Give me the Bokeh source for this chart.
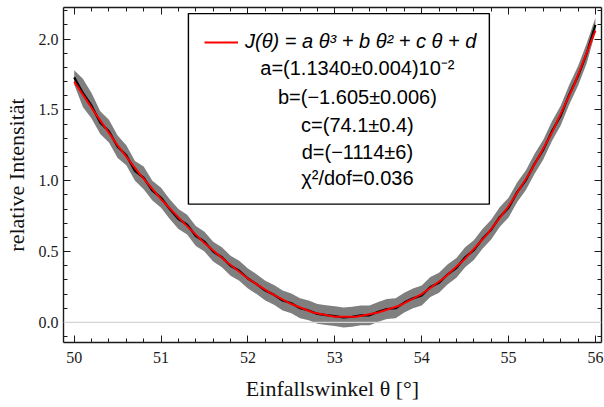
import numpy as np
from bokeh.plotting import figure
from bokeh.models import (Range1d, LinearAxis, SingleIntervalTicker, Span, BoxAnnotation,
                          Label, Legend, LegendItem, ColumnDataSource, CustomJSTickFormatter,
                          PrintfTickFormatter)
from bokeh.core.properties import value
from bokeh.embed import file_html
from bokeh.resources import INLINE

# ---- data ----
theta_data = [50.0, 50.1, 50.2, 50.3, 50.4, 50.5, 50.6, 50.7, 50.8, 50.9,
              51.0, 51.1, 51.2, 51.3, 51.4, 51.5, 51.6, 51.7, 51.8, 51.9,
              52.0, 52.1, 52.2, 52.3, 52.4, 52.5, 52.6, 52.7, 52.8, 52.9,
              53.0, 53.1, 53.2, 53.3, 53.4, 53.5, 53.6, 53.7, 53.8, 53.9,
              54.0, 54.1, 54.2, 54.3, 54.4, 54.5, 54.6, 54.7, 54.8, 54.9,
              55.0, 55.1, 55.2, 55.3, 55.4, 55.5, 55.6, 55.7, 55.8, 55.9,
              56.0]
j_data = [1.73, 1.62, 1.53, 1.41, 1.35, 1.24, 1.18, 1.07, 1.02, 0.93,
          0.88, 0.80, 0.73, 0.69, 0.61, 0.57, 0.50, 0.46, 0.40, 0.365,
          0.31, 0.27, 0.225, 0.195, 0.155, 0.135, 0.10, 0.085, 0.06, 0.052,
          0.045, 0.035, 0.04, 0.05, 0.05, 0.075, 0.095, 0.10, 0.14, 0.17,
          0.19, 0.25, 0.28, 0.34, 0.385, 0.46, 0.51, 0.59, 0.655, 0.745,
          0.81, 0.92, 1.005, 1.12, 1.22, 1.35, 1.46, 1.61, 1.74, 1.90,
          2.10]
j_err = [0.05, 0.10, 0.09, 0.08, 0.08, 0.08, 0.07, 0.07, 0.08, 0.07,
         0.07, 0.07, 0.07, 0.07, 0.07, 0.07, 0.07, 0.07, 0.07, 0.07,
         0.07, 0.07, 0.07, 0.07, 0.07, 0.07, 0.07, 0.07, 0.07, 0.07,
         0.07, 0.07, 0.07, 0.07, 0.07, 0.07, 0.07, 0.07, 0.07, 0.07,
         0.07, 0.07, 0.07, 0.07, 0.07, 0.07, 0.07, 0.07, 0.07, 0.07,
         0.07, 0.07, 0.07, 0.07, 0.07, 0.07, 0.07, 0.07, 0.07, 0.07,
         0.05]

theta_fit = [50.0, 50.25, 50.5, 50.75, 51.0, 51.25, 51.5, 51.75, 52.0, 52.25,
             52.5, 52.75, 53.0, 53.25, 53.5, 53.75, 54.0, 54.25, 54.5, 54.75,
             55.0, 55.25, 55.5, 55.75, 56.0]
j_fit = [1.70, 1.47, 1.25, 1.05, 0.87, 0.71, 0.56, 0.43, 0.31, 0.21,
         0.13, 0.07, 0.04, 0.04, 0.07, 0.12, 0.20, 0.31, 0.45, 0.62,
         0.82, 1.06, 1.34, 1.67, 2.06]

x_ticks_interval = 1
y_ticks_interval = 0.5

legend_label = "J(\u03b8) = a \u03b8\u00b3 + b \u03b8\u00b2 + c \u03b8 + d"
param_lines = ["a=(1.1340\u00b10.004)10\u207b\u00b2",
               "b=(\u22121.605\u00b10.006)",
               "c=(74.1\u00b10.4)",
               "d=(\u22121114\u00b16)",
               "\u03c7\u00b2/dof=0.036"]

x_title = "Einfallswinkel \u03b8 [\u00b0]"
y_title = "relative Intensit\u00e4t"

# ---- figure ----
p = figure(width=604, height=407, output_backend="svg", toolbar_location=None,
           x_range=Range1d(49.877, 56.07), y_range=Range1d(-0.1416, 2.223),
           min_border_left=63, min_border_right=3, min_border_top=7, min_border_bottom=65,
           x_axis_label=x_title, y_axis_label=y_title)
p.xgrid.visible = False
p.ygrid.visible = False
p.outline_line_color = None
p.background_fill_color = "white"

serif = "Liberation Serif"

def style_axis(ax, interval, labels=True):
    ax.ticker = SingleIntervalTicker(interval=interval, num_minor_ticks=5)
    ax.axis_line_color = "#1a1a1a"
    ax.axis_line_width = 1.4
    ax.major_tick_in = 7
    ax.major_tick_out = 0
    ax.minor_tick_in = 4
    ax.minor_tick_out = 0
    ax.major_tick_line_color = "#1a1a1a"
    ax.minor_tick_line_color = "#1a1a1a"
    ax.major_label_text_font = serif
    ax.major_label_text_font_size = "16px"
    ax.major_label_text_color = "#1a1a1a"
    ax.axis_label_text_font = serif
    ax.axis_label_text_font_size = "22px"
    ax.axis_label_text_font_style = "normal"
    ax.axis_label_text_color = "#111111"
    if not labels:
        ax.formatter = CustomJSTickFormatter(code="return ''")
        ax.major_label_standoff = 0

style_axis(p.xaxis[0], x_ticks_interval)
style_axis(p.yaxis[0], y_ticks_interval)
p.yaxis[0].formatter = PrintfTickFormatter(format="%.1f")
p.xaxis[0].major_label_standoff = 9
p.xaxis[0].axis_label_standoff = 10
p.yaxis[0].major_label_standoff = 5
p.yaxis[0].axis_label_standoff = 7

top_ax = LinearAxis()
style_axis(top_ax, x_ticks_interval, labels=False)
p.add_layout(top_ax, "above")
right_ax = LinearAxis()
style_axis(right_ax, y_ticks_interval, labels=False)
p.add_layout(right_ax, "right")

# zero grid line
p.add_layout(Span(location=0, dimension="width", line_color="#d4d4d4", line_width=1.2))

# ---- data glyphs ----
th = np.array(theta_data)
jd = np.array(j_data)
je = np.array(j_err)
src = ColumnDataSource(dict(theta=th, j=jd, lo=jd - je, hi=jd + je))
p.varea(x="theta", y1="lo", y2="hi", source=src, fill_color="#7f7f7f", fill_alpha=1.0)
p.line(x="theta", y="j", source=src, line_color="black", line_width=2.2)
fit_src = ColumnDataSource(dict(theta=theta_fit, j=j_fit))
fit_r = p.line(x="theta", y="j", source=fit_src, line_color="#ff0000", line_width=2)

# ---- legend box ----
box = BoxAnnotation(left=51.315, right=54.779, top=2.18, bottom=0.835,
                    fill_color="white", fill_alpha=1.0,
                    line_color="black", line_alpha=1.0, line_width=1.4)
p.add_layout(box)

legend = Legend(items=[LegendItem(label=value(legend_label), renderers=[fit_r])],
                location=(141, 289), orientation="vertical",
                glyph_width=34, glyph_height=20, label_standoff=7,
                padding=0, margin=0, spacing=0,
                border_line_alpha=0, background_fill_alpha=0,
                label_text_font="Liberation Sans", label_text_font_style="italic",
                label_text_font_size="20px", label_text_color="black",
                label_height=22)
p.add_layout(legend)

line_ys = [1.795, 1.594, 1.394, 1.205, 1.019]
for txt, yy in zip(param_lines, line_ys):
    p.add_layout(Label(x=53.26, y=yy, text=txt, text_align="center", text_baseline="middle",
                       text_font="Liberation Sans", text_font_size="20px", text_color="black"))

open("out.html", "w").write(file_html(p, INLINE))
